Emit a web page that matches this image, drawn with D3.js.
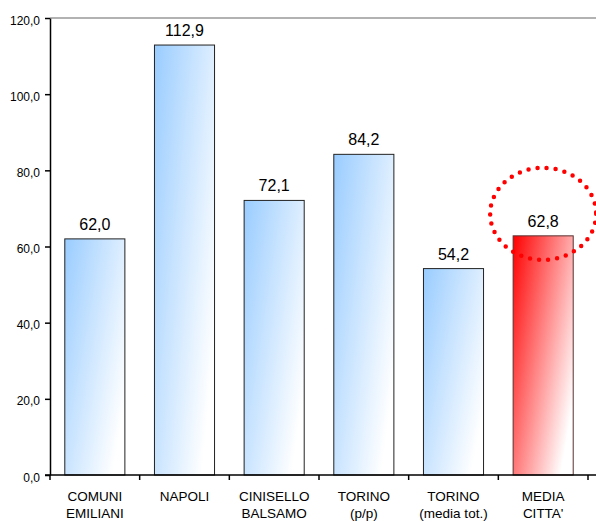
<!DOCTYPE html>
<html lang="it">
<head>
<meta charset="utf-8">
<title>chart</title>
<script src="https://cdn.jsdelivr.net/npm/d3@7"></script>
<style>
  body { margin: 0; background: #fff; overflow: hidden; }
  svg { display: block; }
  text { font-family: "Liberation Sans", Arial, sans-serif; fill: #000; }
</style>
</head>
<body>
<div id="chart"></div>
<script>
// data
var categories = [["COMUNI", "EMILIANI"], ["NAPOLI"], ["CINISELLO", "BALSAMO"], ["TORINO", "(p/p)"], ["TORINO", "(media tot.)"], ["MEDIA", "CITTA'"]];
var values = [62.0, 112.9, 72.1, 84.2, 54.2, 62.8];
var highlight = [false, false, false, false, false, true];
var yTicks = [0, 20, 40, 60, 80, 100, 120];

// plot area edges (window.top is reserved, so prefixed names)
var W = 596, H = 522;
var pLeft = 50, pRight = 588, pTop = 18, pBottom = 475;

var svg = d3.select("#chart").append("svg")
  .attr("width", W).attr("height", H);

var defs = svg.append("defs");
function grad(id, c) {
  var g = defs.append("linearGradient").attr("id", id)
    .attr("x1", 0).attr("y1", 0).attr("x2", 1).attr("y2", 0.7);
  g.append("stop").attr("offset", "0%").attr("stop-color", c);
  g.append("stop").attr("offset", "100%").attr("stop-color", "#ffffff");
}
grad("gblue", "#99ccff");
grad("gred", "#ff0000");

var x = d3.scaleBand().domain(d3.range(values.length)).range([pLeft, pRight]).paddingInner(0.33).paddingOuter(0.165);
var y = d3.scaleLinear().domain([0, 120]).range([pBottom, pTop]);

// top border of plot area
svg.append("line")
  .attr("x1", pLeft).attr("x2", W).attr("y1", pTop).attr("y2", pTop)
  .attr("stroke", "#999").attr("stroke-width", 1.5);

// bars
svg.selectAll("rect.bar").data(values).enter().append("rect")
  .attr("class", "bar")
  .attr("x", function(d, i) { return x(i); })
  .attr("y", function(d) { return y(d); })
  .attr("width", x.bandwidth())
  .attr("height", function(d) { return y(0) - y(d); })
  .attr("fill", function(d, i) { return highlight[i] ? "url(#gred)" : "url(#gblue)"; })
  .attr("stroke", function(d, i) { return highlight[i] ? "#5a3030" : "#222"; })
  .attr("stroke-width", 1);

// value labels
svg.selectAll("text.val").data(values).enter().append("text")
  .attr("class", "val")
  .attr("x", function(d, i) { return x(i) + x.bandwidth() / 2; })
  .attr("y", function(d) { return y(d) - 9; })
  .attr("text-anchor", "middle")
  .style("font-size", "16px")
  .text(function(d) { return d.toFixed(1).replace(".", ","); });

// y axis
var yAxis = svg.append("g")
  .attr("transform", "translate(" + pLeft + ",0)")
  .call(d3.axisLeft(y).tickValues(yTicks).tickSize(5).tickSizeOuter(0)
    .tickFormat(function(d) { return d.toFixed(1).replace(".", ","); }));
yAxis.select(".domain").attr("stroke", "#000").attr("stroke-width", 1.5);
yAxis.selectAll(".tick line").attr("stroke", "#000").attr("stroke-width", 1.5);
yAxis.selectAll(".tick text")
  .style("font-size", "12px")
  .style("font-family", "Liberation Sans, Arial, sans-serif")
  .attr("x", -10).attr("dy", "0.5em");

// x axis
svg.append("line")
  .attr("x1", pLeft - 5).attr("x2", W).attr("y1", pBottom).attr("y2", pBottom)
  .attr("stroke", "#000").attr("stroke-width", 1.5);
var step = x.step();
svg.selectAll("line.xt").data(d3.range(values.length + 1)).enter().append("line")
  .attr("class", "xt")
  .attr("x1", function(i) { return pLeft + i * step; })
  .attr("x2", function(i) { return pLeft + i * step; })
  .attr("y1", pBottom).attr("y2", pBottom + 5)
  .attr("stroke", "#000").attr("stroke-width", 1.5);

// category labels
svg.selectAll("text.cat").data(categories).enter().append("text")
  .attr("class", "cat")
  .attr("text-anchor", "middle")
  .style("font-size", "13.5px")
  .each(function(d, i) {
    var t = d3.select(this);
    d.forEach(function(line, k) {
      t.append("tspan")
        .attr("x", x(i) + x.bandwidth() / 2)
        .attr("y", 501 + k * 17)
        .text(line);
    });
  });

// dotted ellipse around highlighted bar
var hi = highlight.indexOf(true);
svg.append("ellipse")
  .attr("cx", x(hi) + x.bandwidth() / 2)
  .attr("cy", y(values[hi]) - 22)
  .attr("rx", 53).attr("ry", 46)
  .attr("fill", "none")
  .attr("stroke", "#ff0000")
  .attr("stroke-width", 4.5)
  .attr("stroke-linecap", "round")
  .attr("stroke-dasharray", "0 9.1");
</script>
</body>
</html>
